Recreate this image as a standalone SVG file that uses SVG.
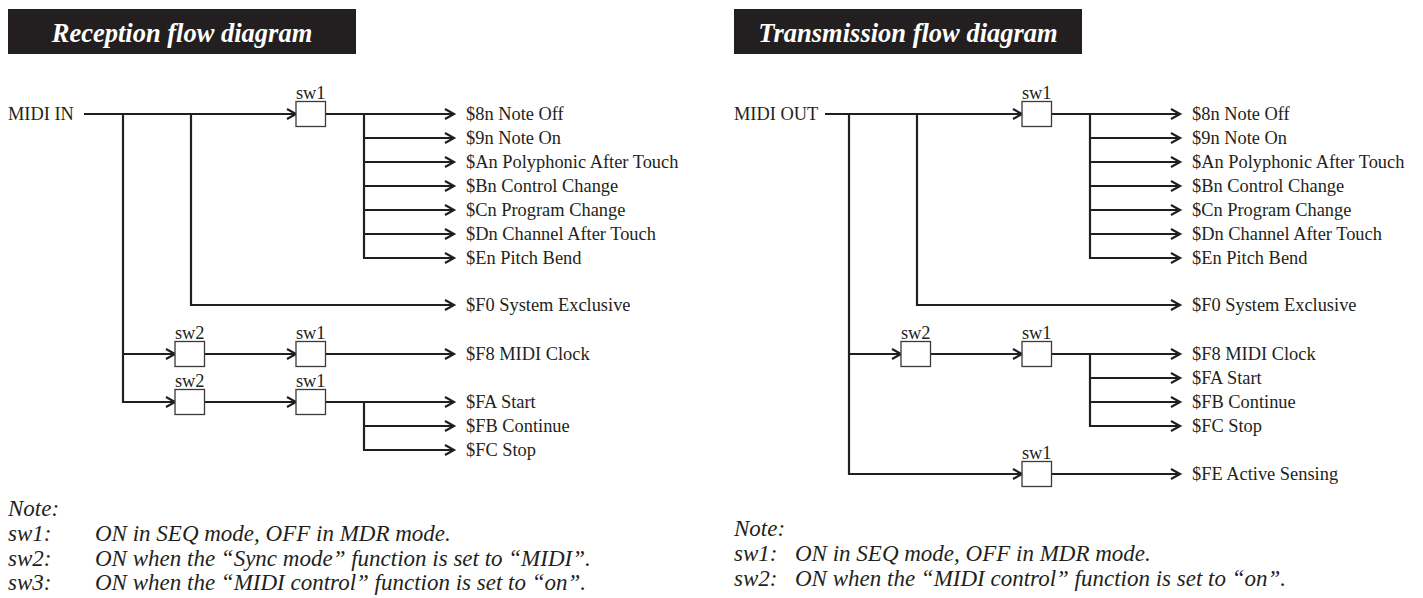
<svg xmlns="http://www.w3.org/2000/svg" width="1423" height="598" viewBox="0 0 1423 598">
<style>
.bar{fill:#231f20}
.title{font-family:"Liberation Serif","Times New Roman",serif;font-weight:bold;font-style:italic;font-size:26.5px;fill:#ffffff;text-anchor:middle}
.lbl{font-family:"Liberation Serif","Times New Roman",serif;font-size:18.4px;fill:#231f20}
.sw{font-family:"Liberation Serif","Times New Roman",serif;font-size:18.4px;fill:#231f20;text-anchor:middle}
.note{font-family:"Liberation Serif","Times New Roman",serif;font-style:italic;font-size:23px;fill:#231f20}
.box{fill:#ffffff;stroke:#3a3a3a;stroke-width:1.3}
.ln{fill:none;stroke:#231f20;stroke-width:2.2}
.ar{marker-end:url(#ah)}
</style>
<defs>
<marker id="ah" markerUnits="userSpaceOnUse" markerWidth="14" markerHeight="14" viewBox="0 0 14 14" refX="11" refY="7" orient="auto" overflow="visible">
<path d="M2,2 L11,7 L2,12" fill="none" stroke="#231f20" stroke-width="2.2"/>
</marker>
</defs>
<rect width="1423" height="598" fill="#ffffff"/>

<!-- Reception panel -->
<g id="reception-title">
<rect class="bar" x="8" y="9" width="348" height="45"/>
<text class="title" x="182" y="42">Reception flow diagram</text>
</g>
<g id="midi-in"><text class="lbl" x="8" y="120">MIDI IN</text></g>

<g id="connectors-reception">
<path class="ln ar" d="M84,114 H296"/>
<path class="ln ar" d="M325.5,114 H454"/>
<path class="ln ar" d="M364,113 V258 H454"/>
<path class="ln ar" d="M364,138 H454"/>
<path class="ln ar" d="M364,162 H454"/>
<path class="ln ar" d="M364,186 H454"/>
<path class="ln ar" d="M364,210 H454"/>
<path class="ln ar" d="M364,234 H454"/>
<path class="ln ar" d="M191,113 V305 H454"/>
<path class="ln ar" d="M123,113 V402 H175"/>
<path class="ln ar" d="M123,354 H175"/>
<path class="ln ar" d="M204.5,354 H296"/>
<path class="ln ar" d="M325.5,354 H454"/>
<path class="ln ar" d="M204.5,402 H296"/>
<path class="ln ar" d="M325.5,402 H454"/>
<path class="ln ar" d="M364,401 V450 H454"/>
<path class="ln ar" d="M364,426 H454"/>
</g>

<g id="r-sw1-a"><rect class="box" x="296" y="101.5" width="29.5" height="25"/><text class="sw" x="310.7" y="99">sw1</text></g>
<g id="r-sw2-b"><rect class="box" x="175" y="341.5" width="29.5" height="25"/><text class="sw" x="189.7" y="339">sw2</text></g>
<g id="r-sw1-b"><rect class="box" x="296" y="341.5" width="29.5" height="25"/><text class="sw" x="310.7" y="339">sw1</text></g>
<g id="r-sw2-c"><rect class="box" x="175" y="389.5" width="29.5" height="25"/><text class="sw" x="189.7" y="387">sw2</text></g>
<g id="r-sw1-c"><rect class="box" x="296" y="389.5" width="29.5" height="25"/><text class="sw" x="310.7" y="387">sw1</text></g>

<g id="reception-outputs">
<text class="lbl" x="466" y="120">$8n Note Off</text>
<text class="lbl" x="466" y="144">$9n Note On</text>
<text class="lbl" x="466" y="168">$An Polyphonic After Touch</text>
<text class="lbl" x="466" y="192">$Bn Control Change</text>
<text class="lbl" x="466" y="216">$Cn Program Change</text>
<text class="lbl" x="466" y="240">$Dn Channel After Touch</text>
<text class="lbl" x="466" y="264">$En Pitch Bend</text>
<text class="lbl" x="466" y="311">$F0 System Exclusive</text>
<text class="lbl" x="466" y="360">$F8 MIDI Clock</text>
<text class="lbl" x="466" y="408">$FA Start</text>
<text class="lbl" x="466" y="432">$FB Continue</text>
<text class="lbl" x="466" y="456">$FC Stop</text>
</g>

<g id="reception-notes">
<text class="note" x="8" y="516">Note:</text>
<text class="note" x="8" y="541">sw1:</text><text class="note" x="95" y="541">ON in SEQ mode, OFF in MDR mode.</text>
<text class="note" x="8" y="566">sw2:</text><text class="note" x="95" y="566">ON when the “Sync mode” function is set to “MIDI”.</text>
<text class="note" x="8" y="590">sw3:</text><text class="note" x="95" y="590">ON when the “MIDI control” function is set to “on”.</text>
</g>

<!-- Transmission panel -->
<g id="transmission-title">
<rect class="bar" x="734" y="9" width="348" height="45"/>
<text class="title" x="908" y="42">Transmission flow diagram</text>
</g>
<g id="midi-out"><text class="lbl" x="734" y="120">MIDI OUT</text></g>

<g id="connectors-transmission">
<path class="ln ar" d="M825,114 H1022"/>
<path class="ln ar" d="M1051.5,114 H1180"/>
<path class="ln ar" d="M1090,113 V258 H1180"/>
<path class="ln ar" d="M1090,138 H1180"/>
<path class="ln ar" d="M1090,162 H1180"/>
<path class="ln ar" d="M1090,186 H1180"/>
<path class="ln ar" d="M1090,210 H1180"/>
<path class="ln ar" d="M1090,234 H1180"/>
<path class="ln ar" d="M917,113 V305 H1180"/>
<path class="ln ar" d="M849,113 V474 H1022"/>
<path class="ln ar" d="M849,354 H901"/>
<path class="ln ar" d="M930.5,354 H1022"/>
<path class="ln ar" d="M1051.5,354 H1180"/>
<path class="ln ar" d="M1090,353 V426 H1180"/>
<path class="ln ar" d="M1090,378 H1180"/>
<path class="ln ar" d="M1090,402 H1180"/>
<path class="ln ar" d="M1051.5,474 H1180"/>
</g>

<g id="t-sw1-a"><rect class="box" x="1022" y="101.5" width="29.5" height="25"/><text class="sw" x="1036.7" y="99">sw1</text></g>
<g id="t-sw2-b"><rect class="box" x="901" y="341.5" width="29.5" height="25"/><text class="sw" x="915.7" y="339">sw2</text></g>
<g id="t-sw1-b"><rect class="box" x="1022" y="341.5" width="29.5" height="25"/><text class="sw" x="1036.7" y="339">sw1</text></g>
<g id="t-sw1-c"><rect class="box" x="1022" y="461.5" width="29.5" height="25"/><text class="sw" x="1036.7" y="459">sw1</text></g>

<g id="transmission-outputs">
<text class="lbl" x="1192" y="120">$8n Note Off</text>
<text class="lbl" x="1192" y="144">$9n Note On</text>
<text class="lbl" x="1192" y="168">$An Polyphonic After Touch</text>
<text class="lbl" x="1192" y="192">$Bn Control Change</text>
<text class="lbl" x="1192" y="216">$Cn Program Change</text>
<text class="lbl" x="1192" y="240">$Dn Channel After Touch</text>
<text class="lbl" x="1192" y="264">$En Pitch Bend</text>
<text class="lbl" x="1192" y="311">$F0 System Exclusive</text>
<text class="lbl" x="1192" y="360">$F8 MIDI Clock</text>
<text class="lbl" x="1192" y="384">$FA Start</text>
<text class="lbl" x="1192" y="408">$FB Continue</text>
<text class="lbl" x="1192" y="432">$FC Stop</text>
<text class="lbl" x="1192" y="480">$FE Active Sensing</text>
</g>

<g id="transmission-notes">
<text class="note" x="734" y="536">Note:</text>
<text class="note" x="734" y="561">sw1:</text><text class="note" x="795" y="561">ON in SEQ mode, OFF in MDR mode.</text>
<text class="note" x="734" y="586">sw2:</text><text class="note" x="795" y="586">ON when the “MIDI control” function is set to “on”.</text>
</g>
</svg>
